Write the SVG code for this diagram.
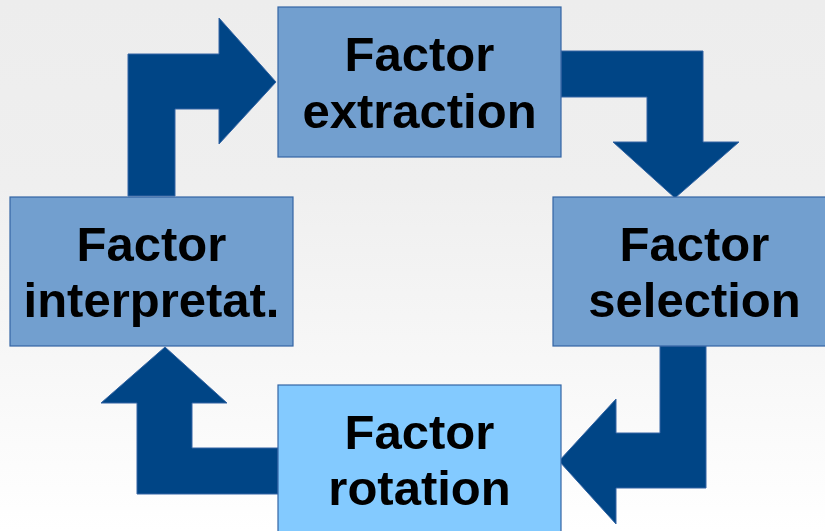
<svg xmlns="http://www.w3.org/2000/svg" width="825" height="531" viewBox="0 0 825 531">
  <defs>
    <linearGradient id="bg" x1="0" y1="0" x2="0" y2="1">
      <stop offset="0" stop-color="#ededed"/>
      <stop offset="0.35" stop-color="#efefef"/>
      <stop offset="1" stop-color="#ffffff"/>
    </linearGradient>
    <style>
      .box { fill: #729fcf; stroke: #3465a4; stroke-width: 1.2; }
      .box.alt { fill: #83caff; }
      .arrow { fill: #004586; stroke: #3465a4; stroke-width: 1; stroke-linejoin: miter; }
      .label { font-family: "Liberation Sans", Arial, sans-serif; font-weight: bold; font-size: 49px; fill: #000; text-anchor: middle; }
    </style>
  </defs>

  <rect x="0" y="0" width="825" height="531" fill="url(#bg)"/>

  <g id="connectors">
    <polygon class="arrow" points="128,196 128,54 219,54 219,18 276,82 219,144 219,109 175,109 175,196"/>
    <polygon class="arrow" points="561,51 703,51 703,142 739,142 675,198 613,142 647,142 647,97 561,97"/>
    <polygon class="arrow" points="660,346 706,346 706,488 616,488 616,524 559,461 616,399 616,433 660,433"/>
    <polygon class="arrow" points="278,448 278,494 137,494 137,403 101,403 165,347 227,403 192,403 192,448"/>
  </g>

  <g id="extraction">
    <rect class="box" x="278" y="7" width="283" height="150"/>
    <text class="label" x="419.5" y="71">Factor</text>
    <text class="label" x="419.5" y="128">extraction</text>
  </g>

  <g id="selection">
    <rect class="box" x="553" y="197" width="283" height="149"/>
    <text class="label" x="694.5" y="261">Factor</text>
    <text class="label" x="694.5" y="317">selection</text>
  </g>

  <g id="rotation">
    <rect class="box alt" x="278" y="385" width="283" height="150"/>
    <text class="label" x="419.5" y="449">Factor</text>
    <text class="label" x="419.5" y="505">rotation</text>
  </g>

  <g id="interpretation">
    <rect class="box" x="10" y="197" width="283" height="149"/>
    <text class="label" x="151.5" y="261">Factor</text>
    <text class="label" x="151.5" y="317">interpretat.</text>
  </g>
</svg>
